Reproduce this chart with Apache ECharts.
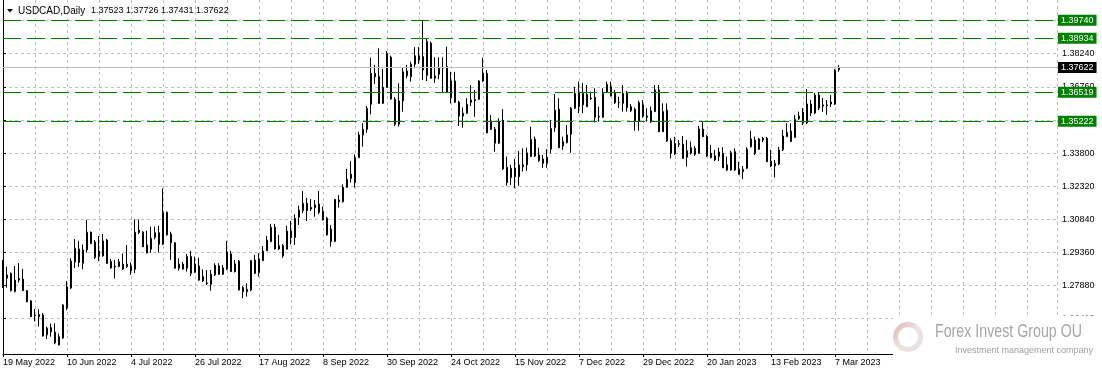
<!DOCTYPE html>
<html><head><meta charset="utf-8">
<script src="https://cdn.jsdelivr.net/npm/echarts@6/dist/echarts.min.js"></script>
<style>html,body{margin:0;padding:0;background:#fff;overflow:hidden}#c{width:1102px;height:375px}</style>
</head><body><div id="c"></div>
<script>
const symbolTitle = 'USDCAD,Daily';
const lastOHLC = ['1.37523', '1.37726', '1.37431', '1.37622'];
const tickLabels = ['19 May 2022','10 Jun 2022','4 Jul 2022','26 Jul 2022','17 Aug 2022','8 Sep 2022','30 Sep 2022','24 Oct 2022','15 Nov 2022','7 Dec 2022','29 Dec 2022','20 Jan 2023','13 Feb 2023','7 Mar 2023'];
const yTicks = [1.26400, 1.27880, 1.29360, 1.30840, 1.32320, 1.33800, 1.35280, 1.36760, 1.38240, 1.39720];
const greenLevels = [1.39740, 1.38934, 1.36519, 1.35222];
const currentPrice = 1.37622;

const open = [
1.2893,1.2820,1.2842,1.2761,1.2819,1.2816,1.2765,1.2719,1.2655,1.2648,
1.2656,1.2567,1.2599,1.2580,1.2522,1.2553,1.2687,1.2777,1.2893,1.2951,
1.2887,1.2947,1.3026,1.2982,1.2917,1.2920,1.2991,1.2895,1.2874,1.2873,
1.2883,1.2872,1.2875,1.2860,1.3035,1.3026,1.2969,1.2950,1.3003,1.3024,
1.2972,1.3115,1.3018,1.2979,1.2865,1.2883,1.2865,1.2917,1.2847,1.2875,
1.2827,1.2799,1.2793,1.2835,1.2875,1.2838,1.2861,1.2929,1.2850,1.2897,
1.2778,1.2760,1.2768,1.2902,1.2845,1.2899,1.2943,1.2984,1.3048,1.2951,
1.2966,1.2950,1.3031,1.3002,1.3093,1.3122,1.3155,1.3136,1.3136,1.3152,
1.3118,1.3088,1.3040,1.2984,1.3170,1.3162,1.3227,1.3285,1.3248,1.3359,
1.3461,1.3486,1.3598,1.3736,1.3721,1.3602,1.3674,1.3808,1.3621,1.3509,
1.3613,1.3747,1.3721,1.3777,1.3796,1.3811,1.3727,1.3871,1.3714,1.3732,
1.3762,1.3766,1.3627,1.3702,1.3607,1.3545,1.3558,1.3607,1.3619,1.3620,
1.3702,1.3736,1.3523,1.3486,1.3424,1.3526,1.3316,1.3270,1.3312,1.3274,
1.3327,1.3327,1.3364,1.3441,1.3371,1.3353,1.3334,1.3397,1.3493,1.3576,
1.3411,1.3426,1.3464,1.3580,1.3650,1.3595,1.3642,1.3626,1.3629,1.3543,
1.3540,1.3651,1.3676,1.3647,1.3606,1.3602,1.3647,1.3587,1.3575,1.3523,
1.3595,1.3545,1.3520,1.3565,1.3662,1.3475,1.3572,1.3435,1.3376,1.3422,
1.3420,1.3361,1.3379,1.3401,1.3379,1.3487,1.3453,1.3379,1.3367,1.3364,
1.3379,1.3327,1.3304,1.3386,1.3307,1.3297,1.3312,1.3408,1.3438,1.3397,
1.3446,1.3446,1.3344,1.3322,1.3331,1.3394,1.3453,1.3478,1.3450,1.3533,
1.3563,1.3514,1.3599,1.3559,1.3639,1.3595,1.3595,1.3599,1.3599,1.37523];

const close = [
1.2781,1.2835,1.2765,1.2812,1.2812,1.2765,1.2715,1.2648,1.2652,1.2659,
1.2562,1.2597,1.2581,1.2531,1.2559,1.2701,1.2782,1.2897,1.2954,1.2891,
1.2947,1.3026,1.2976,1.2913,1.2942,1.2987,1.2887,1.2866,1.2871,1.2894,
1.2862,1.2883,1.2854,1.3026,1.3025,1.2961,1.2934,1.2999,1.3024,1.2972,
1.3115,1.3014,1.2979,1.2865,1.2883,1.2861,1.2917,1.2842,1.2884,1.2812,
1.2808,1.2797,1.2838,1.2878,1.2838,1.2867,1.2938,1.2850,1.2884,1.2768,
1.2760,1.2771,1.2899,1.2842,1.2906,1.2942,1.2991,1.3048,1.2951,1.2966,
1.2920,1.3031,1.3002,1.3088,1.3125,1.3155,1.3122,1.3130,1.3148,1.3115,
1.3081,1.3014,1.2984,1.3173,1.3162,1.3227,1.3263,1.3267,1.3359,1.3461,
1.3486,1.3580,1.3736,1.3721,1.3602,1.3674,1.3826,1.3621,1.3509,1.3613,
1.3743,1.3726,1.3777,1.3815,1.3814,1.3751,1.3878,1.3714,1.3724,1.3761,
1.3760,1.3651,1.3702,1.3607,1.3545,1.3558,1.3598,1.3617,1.3615,1.3702,
1.3736,1.3470,1.3486,1.3424,1.3523,1.3309,1.3248,1.3312,1.3274,1.3327,
1.3319,1.3381,1.3441,1.3367,1.3346,1.3334,1.3361,1.3490,1.3571,1.3404,
1.3431,1.3461,1.3580,1.3647,1.3587,1.3647,1.3587,1.3623,1.3540,1.3541,
1.3647,1.3687,1.3636,1.3605,1.3605,1.3647,1.3583,1.3569,1.3523,1.3605,
1.3545,1.3540,1.3569,1.3662,1.3475,1.3565,1.3434,1.3379,1.3423,1.3419,
1.3356,1.3390,1.3404,1.3374,1.3487,1.3453,1.3367,1.3359,1.3349,1.3385,
1.3314,1.3304,1.3381,1.3304,1.3285,1.3307,1.3397,1.3443,1.3379,1.3443,
1.3438,1.3341,1.3322,1.3334,1.3394,1.3456,1.3471,1.3431,1.3531,1.3545,
1.3514,1.3599,1.3559,1.3639,1.3581,1.3590,1.3592,1.3608,1.3751,1.37622];

const low = [
1.2777,1.2778,1.2761,1.2757,1.2801,1.2763,1.2713,1.2647,1.2627,1.2604,
1.2560,1.2549,1.2559,1.2525,1.2520,1.2549,1.2678,1.2772,1.2865,1.2871,
1.2860,1.2935,1.2973,1.2906,1.2897,1.2917,1.2884,1.2863,1.2819,1.2869,
1.2857,1.2866,1.2836,1.2844,1.3018,1.2960,1.2930,1.2934,1.2994,1.2935,
1.2969,1.3011,1.2902,1.2864,1.2854,1.2860,1.2850,1.2830,1.2844,1.2809,
1.2803,1.2790,1.2765,1.2830,1.2835,1.2835,1.2857,1.2848,1.2846,1.2766,
1.2731,1.2738,1.2763,1.2839,1.2827,1.2897,1.2942,1.2982,1.2949,1.2947,
1.2911,1.2949,1.2972,1.2969,1.3058,1.3111,1.3076,1.3121,1.3095,1.3107,
1.3079,1.3011,1.2961,1.2982,1.3136,1.3159,1.3224,1.3248,1.3225,1.3358,
1.3408,1.3470,1.3553,1.3689,1.3601,1.3599,1.3671,1.3619,1.3501,1.3498,
1.3565,1.3714,1.3699,1.3759,1.3778,1.3706,1.3702,1.3713,1.3694,1.3710,
1.3653,1.3648,1.3602,1.3604,1.3501,1.3493,1.3554,1.3590,1.3542,1.3617,
1.3697,1.3469,1.3483,1.3386,1.3420,1.3304,1.3234,1.3237,1.3222,1.3233,
1.3297,1.3300,1.3362,1.3362,1.3341,1.3314,1.3314,1.3379,1.3475,1.3402,
1.3394,1.3423,1.3381,1.3577,1.3558,1.3558,1.3586,1.3617,1.3517,1.3520,
1.3537,1.3648,1.3633,1.3599,1.3581,1.3565,1.3565,1.3563,1.3480,1.3480,
1.3537,1.3520,1.3514,1.3563,1.3474,1.3474,1.3429,1.3356,1.3371,1.3407,
1.3353,1.3319,1.3373,1.3367,1.3376,1.3452,1.3362,1.3356,1.3344,1.3344,
1.3313,1.3300,1.3302,1.3300,1.3282,1.3263,1.3309,1.3405,1.3371,1.3394,
1.3429,1.3340,1.3317,1.3271,1.3326,1.3389,1.3452,1.3429,1.3447,1.3528,
1.3505,1.3510,1.3545,1.3554,1.3572,1.3563,1.3550,1.3586,1.3595,1.37431];

const high = [
1.2902,1.2872,1.2846,1.2875,1.2888,1.2862,1.2768,1.2723,1.2683,1.2681,
1.2665,1.2604,1.2618,1.2619,1.2573,1.2704,1.2808,1.2909,1.2996,1.2987,
1.2971,1.3081,1.3029,1.2991,1.3009,1.3018,1.2996,1.2906,1.2902,1.2906,
1.2931,1.2969,1.2891,1.3083,1.3083,1.3031,1.3033,1.3051,1.3051,1.3054,
1.3222,1.3118,1.3028,1.2982,1.2909,1.2893,1.2929,1.2943,1.2917,1.2912,
1.2860,1.2857,1.2857,1.2887,1.2887,1.2880,1.2987,1.2943,1.2902,1.2902,
1.2786,1.2798,1.2902,1.2924,1.2932,1.2964,1.3009,1.3063,1.3063,1.3014,
1.2973,1.3055,1.3076,1.3106,1.3145,1.3210,1.3180,1.3174,1.3170,1.3210,
1.3140,1.3095,1.3058,1.3174,1.3192,1.3240,1.3309,1.3344,1.3374,1.3475,
1.3513,1.3590,1.3806,1.3774,1.3848,1.3756,1.3836,1.3815,1.3630,1.3692,
1.3759,1.3774,1.3788,1.3853,1.3854,1.3974,1.3893,1.3878,1.3808,1.3808,
1.3808,1.3855,1.3743,1.3743,1.3613,1.3584,1.3625,1.3684,1.3662,1.3706,
1.3806,1.3751,1.3550,1.3496,1.3535,1.3576,1.3364,1.3327,1.3353,1.3389,
1.3401,1.3404,1.3498,1.3453,1.3404,1.3371,1.3397,1.3528,1.3644,1.3625,
1.3453,1.3505,1.3586,1.3676,1.3699,1.3694,1.3684,1.3654,1.3669,1.3587,
1.3669,1.3699,1.3699,1.3662,1.3632,1.3684,1.3657,1.3599,1.3583,1.3614,
1.3617,1.3580,1.3587,1.3684,1.3684,1.3602,1.3602,1.3446,1.3453,1.3438,
1.3456,1.3438,1.3431,1.3411,1.3501,1.3520,1.3461,1.3416,1.3394,1.3404,
1.3406,1.3364,1.3390,1.3401,1.3341,1.3322,1.3406,1.3479,1.3453,1.3447,
1.3452,1.3452,1.3394,1.3349,1.3408,1.3483,1.3513,1.3513,1.3550,1.3565,
1.3581,1.3666,1.3617,1.3648,1.3653,1.3626,1.3617,1.3639,1.3756,1.37726];

const FONT = '"Liberation Sans", Arial, sans-serif';
const Y_MIN = 1.24816, Y_MAX = 1.40640;
const X_MIN = 0, X_MAX = 263.5;

const candleData = open.map((o, i) => [i, o, close[i], low[i], high[i]]);

const chart = echarts.init(document.getElementById('c'), null, {renderer: 'canvas', width: 1102, height: 375});

const levelLines = greenLevels.map(v => ({
  yAxis: v,
  lineStyle: {color: '#008000', type: [18, 6], width: 1},
  label: {backgroundColor: '#008000'}
}));
levelLines.push({
  yAxis: currentPrice,
  lineStyle: {color: '#c0c0c0', type: 'solid', width: 1},
  label: {backgroundColor: '#000000'}
});

const option = {
  animation: false,
  backgroundColor: '#ffffff',
  grid: {left: 3, right: 45, top: 0, bottom: 21, containLabel: false},
  xAxis: [
    {
      type: 'value', position: 'top', min: X_MIN, max: X_MAX, interval: 8,
      axisLine: {show: false}, axisTick: {show: false}, axisLabel: {show: false},
      splitLine: {show: true, lineStyle: {color: '#c0c0c0', width: 1, type: [3, 3]}}
    },
    {
      type: 'value', position: 'bottom', min: X_MIN, max: X_MAX, interval: 16,
      axisLine: {show: true, lineStyle: {color: '#000', width: 1}},
      axisTick: {show: true, length: 3, lineStyle: {color: '#000'}},
      axisLabel: {
        show: true, color: '#000', fontSize: 9, fontFamily: FONT, align: 'left', margin: 4,
        formatter: v => (v % 16 === 0 && tickLabels[v / 16]) ? tickLabels[v / 16] : ''
      },
      splitLine: {show: false}
    }
  ],
  yAxis: [
    {
      type: 'value', position: 'right', min: Y_MIN, max: Y_MAX, scale: true,
      axisLine: {show: true, lineStyle: {color: '#000', width: 1}},
      axisTick: {show: true, length: 3, customValues: yTicks, lineStyle: {color: '#000'}},
      axisLabel: {customValues: yTicks, color: '#000', fontSize: 9, fontFamily: FONT, margin: 5,
        formatter: v => v.toFixed(5)},
      splitLine: {show: true, lineStyle: {color: '#c0c0c0', width: 1, type: [3, 3]}}
    },
    {
      type: 'value', position: 'left', min: Y_MIN, max: Y_MAX, scale: true,
      axisLine: {show: true, lineStyle: {color: '#000', width: 1}},
      axisTick: {show: false}, axisLabel: {show: false}, splitLine: {show: false}
    }
  ],
  series: [
    {
      type: 'candlestick', xAxisIndex: 0, yAxisIndex: 0, data: candleData,
      barWidth: 2, clip: true, silent: true,
      itemStyle: {color: '#ffffff', color0: '#000000', borderColor: '#000000', borderColor0: '#000000', borderColorDoji: '#000000', borderWidth: 1}
    },
    {
      type: 'line', xAxisIndex: 0, yAxisIndex: 0, data: [], clip: false, silent: true,
      markLine: {
        silent: true, animation: false, symbol: ['none', 'none'], precision: 5,
        label: {show: true, position: 'end', distance: 1, color: '#fff', fontSize: 9, fontFamily: FONT,
          padding: [1, 3, 1, 3], formatter: p => Number(p.value).toFixed(5)},
        data: levelLines
      }
    }
  ],
  graphic: [
    {type: 'polygon', shape: {points: [[7, 9], [13, 9], [10, 12.5]]}, style: {fill: '#000'}, z: 50},
    {type: 'text', x: 18, y: 11, style: {text: symbolTitle, font: '10px ' + FONT, fill: '#000', verticalAlign: 'middle'}, z: 50},
    {type: 'text', x: 91, y: 11, style: {text: lastOHLC.join(' '), font: '9px ' + FONT, fill: '#000', verticalAlign: 'middle'}, z: 50},
    {type: 'rect', shape: {x: 893, y: 315.5, width: 209, height: 60}, style: {fill: '#ffffff'}, z: 100},
    {type: 'circle', shape: {cx: 908, cy: 337, r: 12.5},
      style: {fill: 'none', lineWidth: 5, stroke: new echarts.graphic.LinearGradient(0, 0, 1, 1, [
        {offset: 0, color: '#dcb0b0'}, {offset: 0.5, color: '#eee2e2'}, {offset: 1, color: '#e0e0e0'}])}, z: 101},
    {type: 'text', x: 935, y: 332, scaleX: 0.79, style: {text: 'Forex Invest Group OU', font: '18px ' + FONT, fill: '#a6a6a6', verticalAlign: 'middle'}, z: 101},
    {type: 'text', x: 955, y: 351, style: {text: 'Investment management company', font: '9px ' + FONT, fill: '#a0a0a0', verticalAlign: 'middle'}, z: 101}
  ]
};
chart.setOption(option);
</script>
</body></html>
